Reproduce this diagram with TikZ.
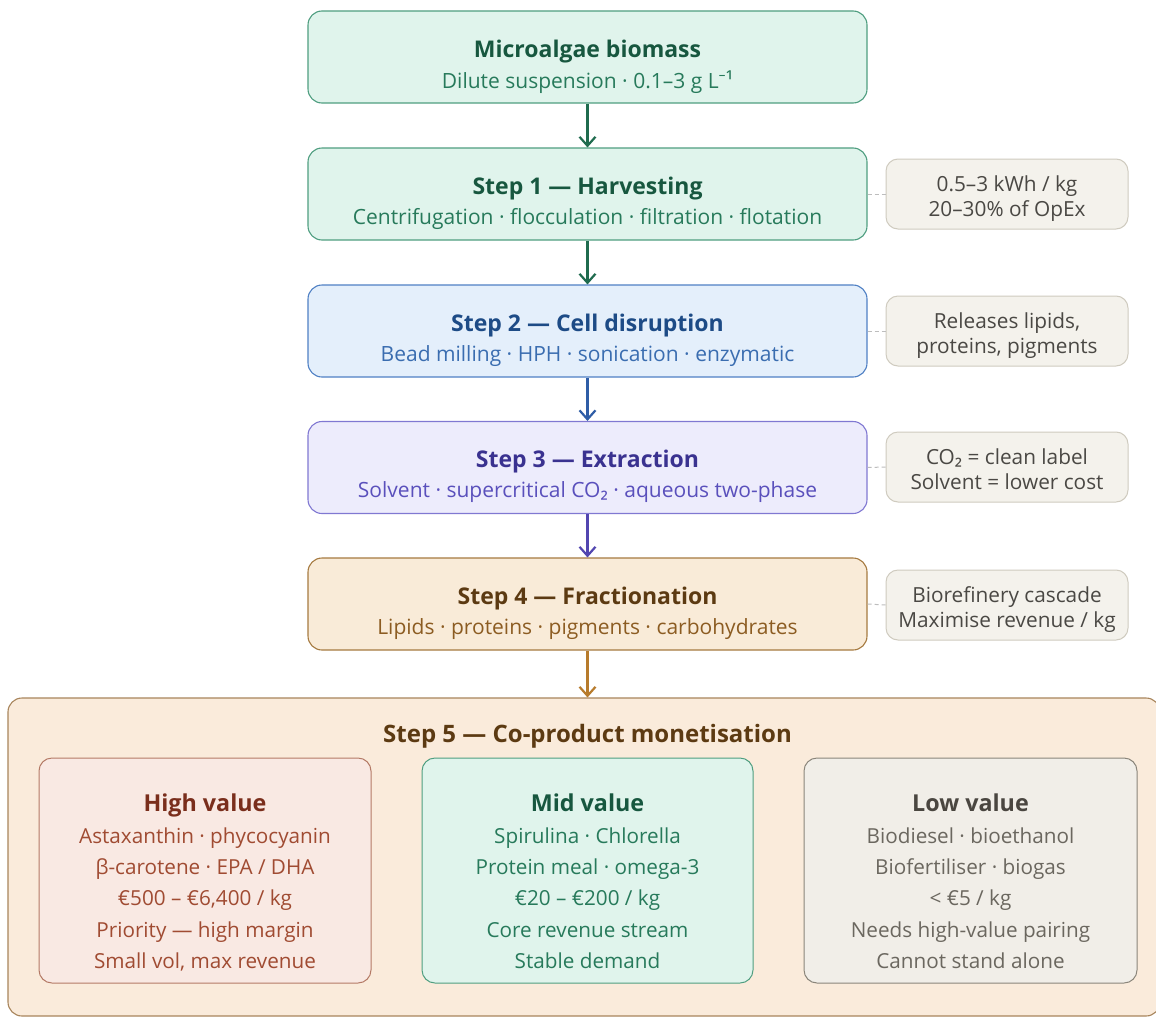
\documentclass[tikz,border=0pt]{standalone}
\usepackage{fontspec}
\setmainfont{Open Sans}
\newfontfamily\glyphs{Noto Sans}
\usetikzlibrary{arrows.meta}

% palette
\definecolor{bioFill}{HTML}{E0F4EC}
\definecolor{bioLine}{HTML}{4F9E80}
\definecolor{bioTitle}{HTML}{17573F}
\definecolor{bioText}{HTML}{277A5B}
\definecolor{bioArrow}{HTML}{1F6B4E}
\definecolor{twoFill}{HTML}{E4EFFB}
\definecolor{twoLine}{HTML}{4F80C4}
\definecolor{twoTitle}{HTML}{1D4B86}
\definecolor{twoText}{HTML}{3A6DB0}
\definecolor{twoArrow}{HTML}{2F5DA6}
\definecolor{thrFill}{HTML}{EDECFC}
\definecolor{thrLine}{HTML}{8078D2}
\definecolor{thrTitle}{HTML}{3A3290}
\definecolor{thrText}{HTML}{5A50BC}
\definecolor{thrArrow}{HTML}{5246B0}
\definecolor{fouFill}{HTML}{F9EBD8}
\definecolor{fouLine}{HTML}{A67A40}
\definecolor{fouTitle}{HTML}{5C3A12}
\definecolor{fouText}{HTML}{8C5C22}
\definecolor{fouArrow}{HTML}{B77B2C}
\definecolor{fivFill}{HTML}{FAEBDB}
\definecolor{fivLine}{HTML}{A8855C}
\definecolor{hiFill}{HTML}{F9E9E3}
\definecolor{hiLine}{HTML}{B47A66}
\definecolor{hiTitle}{HTML}{7A2E1C}
\definecolor{hiText}{HTML}{A04B32}
\definecolor{loFill}{HTML}{F1EEE8}
\definecolor{loLine}{HTML}{8A857A}
\definecolor{loTitle}{HTML}{4A4640}
\definecolor{loText}{HTML}{6B675F}
\definecolor{noteFill}{HTML}{F4F2EC}
\definecolor{noteLine}{HTML}{CFCBBF}
\definecolor{noteText}{HTML}{4A4844}
\definecolor{tieLine}{HTML}{BDBDBD}

\tikzset{
  stepbox/.style={draw, rounded corners=14pt, line width=1.1pt,
    minimum width=559pt, minimum height=92pt, inner sep=0pt},
  notebox/.style={draw=noteLine, fill=noteFill, rounded corners=12pt, line width=1pt,
    minimum width=242pt, minimum height=70pt, inner sep=0pt},
  valbox/.style={draw, rounded corners=13pt, line width=1pt,
    minimum height=225pt, inner sep=0pt},
  ttl/.style={anchor=base, inner sep=0pt, font=\fontsize{23}{27}\selectfont\bfseries},
  sub/.style={anchor=base, inner sep=0pt, font=\fontsize{21}{25}\selectfont},
  notetxt/.style={anchor=base, inner sep=0pt, text=noteText, font=\fontsize{20.8}{24}\selectfont},
  valttl/.style={anchor=base, inner sep=0pt, font=\fontsize{23.3}{27}\selectfont\bfseries},
  valtxt/.style={anchor=base, inner sep=0pt, font=\fontsize{20.7}{24}\selectfont},
  flow/.style={line width=2.2pt, -{Straight Barb[length=9pt,width=16pt,line width=2.2pt]}},
  tie/.style={draw=tieLine, line width=1pt, dashed, dash pattern=on 4pt off 3pt}
}

\begin{document}
\begin{tikzpicture}[x=1pt,y=-1pt]
\fill[white] (0,0) rectangle (1156,1017);
\useasboundingbox (0,0) rectangle (1156,1017);

% process chain
\node[stepbox, draw=bioLine, fill=bioFill] (bio) at (587.5,57) {};
\node[ttl, text=bioTitle] (bioT) at (587.5,57) {Microalgae biomass};
\node[sub, text=bioText] (bioS) at (587.5,88) {Dilute suspension · 0.1–3 g L{\glyphs ⁻¹}};

\node[stepbox, draw=bioLine, fill=bioFill] (s1) at (587.5,194) {};
\node[ttl, text=bioTitle] (s1T) at (587.5,194) {Step 1 — Harvesting};
\node[sub, text=bioText] (s1S) at (587.5,224) {Centrifugation · flocculation · filtration · flotation};

\node[stepbox, draw=twoLine, fill=twoFill] (s2) at (587.5,331) {};
\node[ttl, text=twoTitle] (s2T) at (587.5,331) {Step 2 — Cell disruption};
\node[sub, text=twoText] (s2S) at (587.5,361) {Bead milling · HPH · sonication · enzymatic};

\node[stepbox, draw=thrLine, fill=thrFill] (s3) at (587.5,467.5) {};
\node[ttl, text=thrTitle] (s3T) at (587.5,467.5) {Step 3 — Extraction};
\node[sub, text=thrText] (s3S) at (587.5,497.5) {Solvent · supercritical CO{\glyphs ₂} · aqueous two-phase};

\node[stepbox, draw=fouLine, fill=fouFill] (s4) at (587.5,604) {};
\node[ttl, text=fouTitle] (s4T) at (587.5,604) {Step 4 — Fractionation};
\node[sub, text=fouText] (s4S) at (587.5,634) {Lipids · proteins · pigments · carbohydrates};

% side notes
\node[notebox] (n1) at (1007,194) {};
\node[notetxt] (n1a) at (1007,191) {0.5–3 kWh / kg};
\node[notetxt] (n1b) at (1007,216) {20–30\% of OpEx};

\node[notebox] (n2) at (1007,331) {};
\node[notetxt] (n2a) at (1007,328) {Releases lipids,};
\node[notetxt] (n2b) at (1007,353) {proteins, pigments};

\node[notebox] (n3) at (1007,467) {};
\node[notetxt] (n3a) at (1007,464) {CO{\glyphs ₂} = clean label};
\node[notetxt] (n3b) at (1007,489) {Solvent = lower cost};

\node[notebox] (n4) at (1007,605) {};
\node[notetxt] (n4a) at (1007,602) {Biorefinery cascade};
\node[notetxt] (n4b) at (1007,627) {Maximise revenue / kg};

\draw[tie] (s1.east) -- (n1.west);
\draw[tie] (s2.east) -- (n2.west);
\draw[tie] (s3.east) -- (n3.west);
\draw[tie] (s4.east) -- (n4.west);

% step 5 container
\node[draw=fivLine, fill=fivFill, rounded corners=14pt, line width=1.1pt,
      minimum width=1152pt, minimum height=318pt, inner sep=0pt] (s5) at (584,857) {};
\node[ttl, text=fouTitle, font=\fontsize{24}{28}\selectfont\bfseries] (s5T) at (587.5,742) {Step 5 — Co-product monetisation};

% value tiers
\node[valbox, draw=hiLine, fill=hiFill, minimum width=332pt] (hi) at (205,870.5) {};
\node[valttl, text=hiTitle] (hiT) at (205,811) {High value};
\node[valtxt, text=hiText] (hi1) at (205,843) {Astaxanthin · phycocyanin};
\node[valtxt, text=hiText] (hi2) at (205,874) {β-carotene · EPA / DHA};
\node[valtxt, text=hiText] (hi3) at (205,905) {€500 – €6,400 / kg};
\node[valtxt, text=hiText] (hi4) at (205,937) {Priority — high margin};
\node[valtxt, text=hiText] (hi5) at (205,968) {Small vol, max revenue};

\node[valbox, draw=bioLine, fill=bioFill, minimum width=331pt] (mid) at (587.5,870.5) {};
\node[valttl, text=bioTitle] (midT) at (587.5,811) {Mid value};
\node[valtxt, text=bioText] (mid1) at (587.5,843) {Spirulina · Chlorella};
\node[valtxt, text=bioText] (mid2) at (587.5,874) {Protein meal · omega-3};
\node[valtxt, text=bioText] (mid3) at (587.5,905) {€20 – €200 / kg};
\node[valtxt, text=bioText] (mid4) at (587.5,937) {Core revenue stream};
\node[valtxt, text=bioText] (mid5) at (587.5,968) {Stable demand};

\node[valbox, draw=loLine, fill=loFill, minimum width=333pt] (lo) at (970.5,870.5) {};
\node[valttl, text=loTitle] (loT) at (970.5,811) {Low value};
\node[valtxt, text=loText] (lo1) at (970.5,843) {Biodiesel · bioethanol};
\node[valtxt, text=loText] (lo2) at (970.5,874) {Biofertiliser · biogas};
\node[valtxt, text=loText] (lo3) at (970.5,905) {< €5 / kg};
\node[valtxt, text=loText] (lo4) at (970.5,937) {Needs high-value pairing};
\node[valtxt, text=loText] (lo5) at (970.5,968) {Cannot stand alone};

% flow arrows
\draw[flow, draw=bioArrow] (bio.south) -- (s1.north);
\draw[flow, draw=bioArrow] (s1.south) -- (s2.north);
\draw[flow, draw=twoArrow] (s2.south) -- (s3.north);
\draw[flow, draw=thrArrow] (s3.south) -- (s4.north);
\draw[flow, draw=fouArrow] (s4.south) -- (s4.south |- s5.north);
\end{tikzpicture}
\end{document}
